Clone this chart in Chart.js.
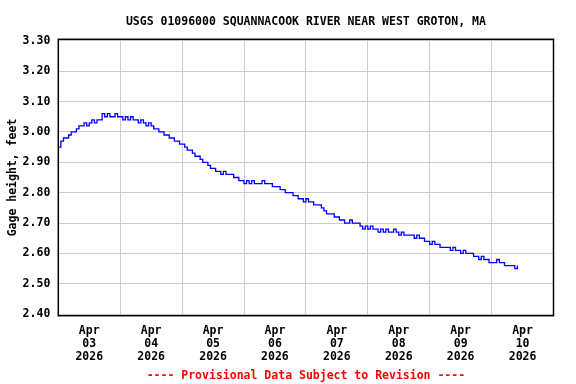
<!DOCTYPE html>
<html>
<head>
<meta charset="utf-8">
<script src="https://cdn.jsdelivr.net/npm/chart.js@4.4.1/dist/chart.umd.min.js"></script>
<style>
  html, body { margin: 0; padding: 0; background: #fff; }
  canvas { display: block; }
</style>
</head>
<body>
<canvas id="chart" width="576" height="384"></canvas>
<script>
const titleText = 'USGS 01096000 SQUANNACOOK RIVER NEAR WEST GROTON, MA';
const footerText = '---- Provisional Data Subject to Revision ----';
const yAxisTitle = 'Gage height, feet';
const monthLabel = 'Apr';
const yearLabel = '2026';
const dayLabels = ['03', '04', '05', '06', '07', '08', '09', '10'];
const yTicks = [2.40, 2.50, 2.60, 2.70, 2.80, 2.90, 3.00, 3.10, 3.20, 3.30];

// hourly gage height, feet, starting Apr 03 00:00
const gageHeight = [
  2.95, 2.97, 2.98, 2.98, 2.99, 3.00, 3.00, 3.01, 3.02, 3.02, 3.03, 3.02, 3.03, 3.04, 3.03, 3.04, 3.04, 3.06, 3.05, 3.06, 3.05, 3.05, 3.06, 3.05,
  3.05, 3.04, 3.05, 3.04, 3.05, 3.04, 3.04, 3.03, 3.04, 3.03, 3.02, 3.03, 3.02, 3.01, 3.01, 3.00, 3.00, 2.99, 2.99, 2.98, 2.98, 2.97, 2.97, 2.96,
  2.96, 2.95, 2.94, 2.94, 2.93, 2.92, 2.92, 2.91, 2.90, 2.90, 2.89, 2.88, 2.88, 2.87, 2.87, 2.86, 2.87, 2.86, 2.86, 2.86, 2.85, 2.85, 2.84, 2.84,
  2.83, 2.84, 2.83, 2.84, 2.83, 2.83, 2.83, 2.84, 2.83, 2.83, 2.83, 2.82, 2.82, 2.82, 2.81, 2.81, 2.80, 2.80, 2.80, 2.79, 2.79, 2.78, 2.78, 2.77,
  2.78, 2.77, 2.77, 2.76, 2.76, 2.76, 2.75, 2.74, 2.73, 2.73, 2.73, 2.72, 2.72, 2.71, 2.71, 2.70, 2.70, 2.71, 2.70, 2.70, 2.70, 2.69, 2.68, 2.69,
  2.68, 2.69, 2.68, 2.68, 2.67, 2.68, 2.67, 2.68, 2.67, 2.67, 2.68, 2.67, 2.66, 2.67, 2.66, 2.66, 2.66, 2.66, 2.65, 2.66, 2.65, 2.65, 2.64, 2.64,
  2.63, 2.64, 2.63, 2.63, 2.62, 2.62, 2.62, 2.62, 2.61, 2.62, 2.61, 2.61, 2.60, 2.61, 2.60, 2.60, 2.60, 2.59, 2.59, 2.58, 2.59, 2.58, 2.58, 2.57,
  2.57, 2.57, 2.58, 2.57, 2.57, 2.56, 2.56, 2.56, 2.56, 2.55, 2.56
];

const font_family = "'DejaVu Sans Mono', 'Liberation Mono', monospace";
const grid_color = 'rgb(204, 204, 204)';
const line_color = 'rgb(0, 0, 255)';

function make_font(size) {
    return { family: font_family, size: size, weight: 'bold', lineHeight: 1.2 };
}

// black box round the plot area
const framePlugin = {
    id: 'frame',
    afterDatasetsDraw(chart) {
        const a = chart.chartArea;
        const ctx = chart.ctx;
        ctx.save();
        ctx.strokeStyle = '#000';
        ctx.lineWidth = 1.5;
        ctx.strokeRect(a.left, a.top, a.right - a.left, a.bottom - a.top);
        ctx.restore();
    }
};

const points = gageHeight.map((v, i) => ({ x: i, y: v }));

const data = {
    datasets: [{
        data: points,
        borderColor: line_color,
        borderWidth: 1.3,
        pointRadius: 0,
        stepped: true,
        fill: false
    }]
};

const options = {
    responsive: false,
    animation: false,
    layout: { padding: { left: 0, right: 22.5, top: 0, bottom: 0 } },
    plugins: {
        legend: { display: false },
        tooltip: { enabled: false },
        title: {
            display: true,
            text: titleText,
            color: '#000',
            font: make_font(11.5),
            fullSize: false,
            padding: { top: 15, bottom: 10.5 }
        },
        subtitle: {
            display: true,
            position: 'bottom',
            text: footerText,
            color: 'rgb(255, 0, 0)',
            font: make_font(11.5),
            fullSize: false,
            padding: { top: 0, bottom: 1 }
        }
    },
    scales: {
        x: {
            type: 'linear',
            min: 0,
            max: dayLabels.length * 24,
            afterFit(scale) { scale.height = 53.5; },
            afterBuildTicks(scale) {
                const t = [];
                for (let h = 0; h <= dayLabels.length * 24; h += 12) t.push({ value: h });
                scale.ticks = t;
            },
            border: { display: false },
            grid: {
                drawTicks: false,
                lineWidth: 1,
                color: ctx => (ctx.tick && ctx.tick.value % 24 === 0) ? grid_color : 'rgba(0,0,0,0)'
            },
            ticks: {
                autoSkip: false,
                maxRotation: 0,
                padding: 9,
                color: '#000',
                font: { family: font_family, size: 11.5, weight: 'bold', lineHeight: 1.13 },
                callback: v => (v % 24 === 12) ? [monthLabel, dayLabels[(v - 12) / 24], yearLabel] : ''
            }
        },
        y: {
            min: 2.395,
            max: 3.305,
            afterFit(scale) { scale.width = 58.3; },
            afterBuildTicks(scale) { scale.ticks = yTicks.map(v => ({ value: v })); },
            border: { display: false },
            grid: { drawTicks: false, color: grid_color, lineWidth: 1 },
            ticks: {
                padding: 8,
                color: '#000',
                font: make_font(11.5),
                callback: v => v.toFixed(2)
            },
            title: {
                display: true,
                text: yAxisTitle,
                color: '#000',
                font: make_font(11.5),
                padding: { top: 6, bottom: 0 }
            }
        }
    }
};

new Chart(document.getElementById('chart'), { type: 'line', data: data, options: options, plugins: [framePlugin] });
</script>
</body>
</html>
